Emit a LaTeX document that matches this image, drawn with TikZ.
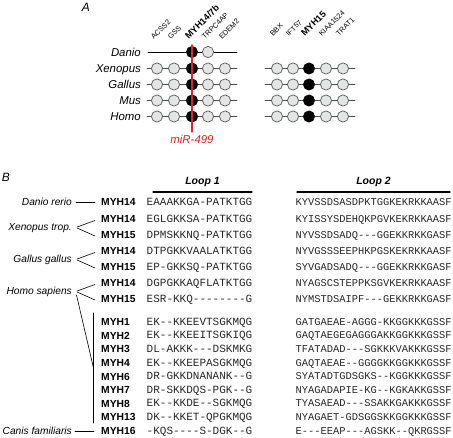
\documentclass[tikz,border=0pt]{standalone}
\usepackage{fontspec}
\setmainfont{Liberation Sans}
\setmonofont{Liberation Mono}
\usepackage{tikz}
\usepackage{xcolor}
\definecolor{geneGrey}{HTML}{E1E5E5}
\definecolor{mirRed}{HTML}{D8262B}

\begin{document}
\begin{tikzpicture}[x=1pt,y=-1pt,line cap=round,
  gene/.style={circle,draw=black!65,fill=geneGrey,line width=0.7pt,minimum size=11.2pt,inner sep=0pt},
  myh/.style={gene,draw=black,fill=black},
  chrom/.style={black!70,line width=0.8pt},
  genename/.style={rotate=45,anchor=south west,inner sep=0pt,font=\fontsize{7.3}{8}\selectfont},
  myhname/.style={genename,font=\fontsize{9.2}{10}\selectfont\bfseries},
  organism/.style={anchor=east,inner sep=0pt,text height=8.2pt,text depth=0pt,font=\fontsize{11.4}{13}\selectfont\itshape},
  species/.style={anchor=east,inner sep=0pt,text height=7.3pt,text depth=0pt,font=\fontsize{10.2}{12}\selectfont\itshape},
  isoform/.style={anchor=west,inner sep=0pt,text height=7.4pt,text depth=0pt,font=\fontsize{10.3}{12}\selectfont\bfseries},
  loopA/.style={anchor=west,inner sep=0pt,text height=6.6pt,text depth=0pt,black!85,font=\ttfamily\fontsize{11}{12}\selectfont},
  loopB/.style={loopA,font=\ttfamily\fontsize{10.4}{12}\selectfont},
  loophead/.style={font=\fontsize{10.5}{12}\selectfont\bfseries\itshape},
  panel/.style={font=\fontsize{12}{14}\selectfont\itshape},
  tie/.style={black,line width=0.6pt}]
\useasboundingbox (0,0) rectangle (453,437);

% panel A: synteny of the two myosin loci
\node[panel] (labA) at (86,7) {A};
\node[organism] (danio) at (141,52) {Danio};
\node[organism] (xenopus) at (141,68.5) {Xenopus};
\node[organism] (gallus) at (141,84.5) {Gallus};
\node[organism] (mus) at (141,100.5) {Mus};
\node[organism] (homo) at (141,116.5) {Homo};
\draw[black,line width=0.8pt] (148,52) -- (237,52);
\node[myh] (danio14) at (192,52) {};
\node[gene] (danioTrpc) at (208,52) {};
\foreach \y in {68.5,84.5,100.5,116.5} {
  \draw[chrom] (147,\y) -- (237,\y);
  \draw[chrom] (265,\y) -- (355,\y);
  \foreach \x in {157,174,208,225,277,293,326,343}
    \node[gene] at (\x,\y) {};
  \node[myh] at (192,\y) {};
  \node[myh] at (309,\y) {};
}
\draw[mirRed,line width=1.2pt] (192,45) -- (192,132);
\node[mirRed,font=\fontsize{11.4}{13}\selectfont\itshape] (mir) at (192,139) {miR-499};
\foreach \x/\g in {157/ACSS2,174/GSS,208/TRPC4AP,225/EDEM2}
  \node[genename] at (\x-3,40) {\g};
\node[myhname] (locus14) at (189,40) {MYH14/7b};
\foreach \x/\g in {277/BBX,293/IFT57,326/KIAA1524,343/TRAT1}
  \node[genename] at (\x-4,37) {\g};
\node[myhname] (locus15) at (305,37) {MYH15};

% panel B: loop alignments
\node[panel] (labB) at (6,177) {B};
\node[loophead] (loop1) at (202.5,182) {Loop 1};
\node[loophead] (loop2) at (373.5,182) {Loop 2};
\draw[line width=1.3pt] (153,192) -- (252,192);
\draw[line width=1.3pt] (297,192) -- (450,192);
\foreach \n/\y/\g/\a/\b in {
  d14/202/MYH14/EAAAKKGA-PATKTGG/KYVSSDSASDPKTGGKEKRKKAASF,
  x14/219/MYH14/EGLGKKSA-PATKTGG/KYISSYSDEHQKPGVKEKRKKAASF,
  x15/235/MYH15/DPMSKKNQ-PATKTGG/NYVSSDSADQ---GGEKKRKKGASF,
  g14/251/MYH14/DTPGKKVAALATKTGG/NYVGSSSEEPHKPGSKEKRKKAASF,
  g15/267/MYH15/EP-GKKSQ-PATKTGG/SYVGADSADQ---GGEKKRKKGASF,
  h14/283/MYH14/DGPGKKAQFLATKTGG/NYAGSCSTEPPKSGVKEKRKKAASF,
  h15/299/MYH15/ESR-KKQ--------G/NYMSTDSAIPF---GEKKRKKGASF,
  m1/322/MYH1/EK--KKEEVTSGKMQG/GATGAEAE-AGGG-KKGGKKKGSSF,
  m2/335.6/MYH2/EK--KKEEITSGKIQG/GAQTAEGEGAGGGAKKGGKKKGSSF,
  m3/349.2/MYH3/DL-AKKK---DSKMKG/TFATADAD---SGKKKVAKKKGSSF,
  m4/362.8/MYH4/EK--KKEEPASGKMQG/GAQTAEAE--GGGGKKGGKKKGSSF,
  m6/376.4/MYH6/DR-GKKDNANANK--G/SYATADTGDSGKS--KGGKKKGSSF,
  m7/390/MYH7/DR-SKKDQS-PGK--G/NYAGADAPIE-KG--KGKAKKGSSF,
  m8/403.6/MYH8/EK--KKDE--SGKMQG/TYASAEAD---SSAKKGAKKKGSSF,
  m13/417.2/MYH13/DK--KKET-QPGKMQG/NYAGAET-GDSGGSKKGGKKKGSSF,
  c16/430.8/MYH16/-KQS----S-DGK--G/E---EEAP---AGSKK--QKRGSSF} {
  \node[isoform] (\n) at (101,\y) {\g};
  \node[loopA] (\n a) at (146.5,\y) {\a};
  \node[loopB] (\n b) at (295.5,\y) {\b};
}
\node[species] (danioB) at (72,202) {Danio rerio};
\node[species] (xenoB) at (72,227) {Xenopus trop.};
\node[species] (gallusB) at (72,259) {Gallus gallus};
\node[species] (homoB) at (72,291) {Homo sapiens};
\node[species] (canisB) at (72,430.8) {Canis familiaris};
\draw[tie] ([xshift=4pt]danioB.east) -- ([xshift=-6pt]d14.west);
\draw[tie] ([xshift=5pt]xenoB.east) -- ([xshift=-6pt,yshift=-1.5pt]x14.west);
\draw[tie] ([xshift=5pt,yshift=-1pt]xenoB.east) -- ([xshift=-6pt,yshift=-1pt]x15.west);
\draw[tie] ([xshift=5pt]gallusB.east) -- ([xshift=-6pt,yshift=-1.5pt]g14.west);
\draw[tie] ([xshift=5pt,yshift=-1pt]gallusB.east) -- ([xshift=-6pt,yshift=-1pt]g15.west);
\draw[tie] ([xshift=5pt]homoB.east) -- ([xshift=-6pt,yshift=-1.5pt]h14.west);
\draw[tie] ([xshift=5pt,yshift=-1pt]homoB.east) -- ([xshift=-6pt,yshift=-1pt]h15.west);
\coordinate (barTop) at (93.5,313);
\coordinate (barMid) at (93.5,368);
\coordinate (barBot) at (93.5,423);
\draw[tie,line width=0.8pt] (barTop) -- (barBot);
\draw[tie] ([xshift=4.5pt,yshift=-4pt]homoB.east) -- (barMid);
\draw[tie] ([xshift=3pt]canisB.east) -- ([xshift=-7pt]c16.west);
\end{tikzpicture}
\end{document}
